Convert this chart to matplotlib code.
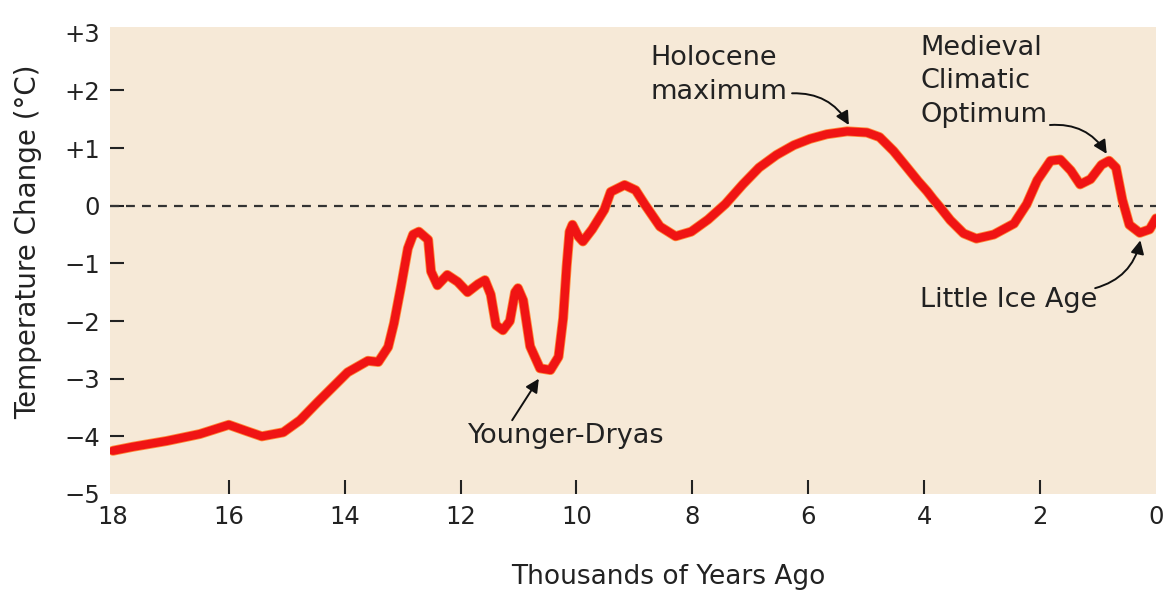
import matplotlib
matplotlib.use("Agg")
import matplotlib.pyplot as plt

# temperature anomaly curve (thousands of years ago, deg C)
kyr_ago = [18.0, 17.65, 17.07, 16.5, 16.0, 15.69, 15.43, 15.06, 14.77, 14.47,
           14.19, 13.95, 13.6, 13.42, 13.25, 13.15, 13.03, 12.91, 12.82, 12.72,
           12.56, 12.51, 12.4, 12.23, 12.05, 11.88, 11.7, 11.58, 11.48, 11.39,
           11.27, 11.15, 11.06, 11.01, 10.92, 10.8, 10.63, 10.45, 10.31, 10.23,
           10.17, 10.12, 10.07, 9.97, 9.89, 9.73, 9.52, 9.41, 9.17, 8.98,
           8.82, 8.56, 8.29, 8.02, 7.73, 7.43, 7.13, 6.85, 6.55, 6.25,
           5.97, 5.68, 5.33, 4.99, 4.77, 4.53, 4.31, 4.1, 3.95, 3.85,
           3.7, 3.55, 3.32, 3.1, 2.8, 2.45, 2.23, 2.05, 1.82, 1.65,
           1.47, 1.31, 1.13, 0.94, 0.81, 0.69, 0.58, 0.46, 0.28, 0.11, 0.0]
temp_change = [-4.25, -4.18, -4.08, -3.96, -3.80, -3.91, -4.0, -3.93, -3.72, -3.41,
               -3.13, -2.89, -2.69, -2.71, -2.45, -2.04, -1.41, -0.74, -0.5, -0.45,
               -0.59, -1.14, -1.38, -1.2, -1.32, -1.5, -1.36, -1.29, -1.54, -2.07,
               -2.16, -2.0, -1.5, -1.43, -1.64, -2.44, -2.82, -2.85, -2.62, -1.95,
               -1.05, -0.45, -0.33, -0.53, -0.62, -0.41, -0.07, 0.24, 0.36, 0.27,
               0.02, -0.36, -0.53, -0.45, -0.24, 0.03, 0.37, 0.66, 0.88, 1.05,
               1.16, 1.24, 1.29, 1.27, 1.19, 0.95, 0.68, 0.42, 0.25, 0.12,
               -0.06, -0.25, -0.48, -0.57, -0.5, -0.31, 0.03, 0.44, 0.78, 0.8,
               0.61, 0.37, 0.46, 0.71, 0.78, 0.66, 0.1, -0.33, -0.47, -0.41, -0.22]

x_ticks = [18, 16, 14, 12, 10, 8, 6, 4, 2, 0]
y_ticks = [3, 2, 1, 0, -1, -2, -3, -4, -5]
y_tick_labels = ["+3", "+2", "+1", "0", "\u22121", "\u22122", "\u22123", "\u22124", "\u22125"]

# labelled events: (text, text x, text y, arrow start, arrow tip, curvature)
events = [
    ("Holocene\nmaximum", 8.73, 2.27, (6.28, 1.95), (5.30, 1.40), -0.3),
    ("Medieval\nClimatic\nOptimum", 4.07, 2.16, (1.83, 1.40), (0.85, 0.90), -0.3),
    ("Little Ice Age", 4.07, -1.64, (1.05, -1.43), (0.27, -0.60), 0.3),
    ("Younger-Dryas", 11.87, -4.0, (11.11, -3.72), (10.65, -3.00), 0.0),
]

plt.rcParams["font.family"] = ["DejaVu Sans"]
INK = "#222222"

fig = plt.figure(figsize=(11.68, 5.90), dpi=100)
ax = fig.add_axes([110 / 1168, 96 / 590, 1046 / 1168, 467 / 590])
ax.set_facecolor("#f6e9d7")
for side in ax.spines.values():
    side.set_visible(False)

ax.set_xlim(18.05, 0)
ax.set_ylim(-5, 3.1)

ax.axhline(0, color="#333333", lw=1.6, dashes=(4, 3.2), zorder=2)

# orange halo under the red line, like the printed original
ax.plot(kyr_ago, temp_change, color="#ff8a3a", lw=7.2, solid_capstyle="round",
        solid_joinstyle="round", zorder=3)
ax.plot(kyr_ago, temp_change, color="#f01414", lw=6.0, solid_capstyle="round",
        solid_joinstyle="round", zorder=4)

ax.set_xticks(x_ticks)
ax.set_xticklabels([str(t) for t in x_ticks])
ax.set_yticks(y_ticks)
ax.set_yticklabels(y_tick_labels)
ax.tick_params(axis="both", direction="in", length=10, width=1.5, color=INK,
               labelsize=17.5, labelcolor=INK)
ax.tick_params(axis="x", pad=8)
ax.tick_params(axis="y", pad=7)

# no tick marks at the corners
for tk in (ax.xaxis.get_major_ticks()[0], ax.xaxis.get_major_ticks()[-1],
           ax.yaxis.get_major_ticks()[0], ax.yaxis.get_major_ticks()[-1]):
    tk.tick1line.set_visible(False)

for text, tx, ty, start, tip, rad in events:
    ax.text(tx, ty, text, ha="left", va="center", fontsize=19.5, color=INK,
            linespacing=1.38, zorder=5)
    ax.annotate("", xy=tip, xytext=start,
                arrowprops=dict(arrowstyle="-|>", color="#111111", lw=1.4,
                                mutation_scale=20, shrinkA=0, shrinkB=0,
                                connectionstyle=f"arc3,rad={rad}"),
                zorder=5)

fig.text(668 / 1168, (590 - 577) / 590, "Thousands of Years Ago", ha="center",
         va="center", fontsize=19, color=INK)
fig.text(28 / 1168, (590 - 242) / 590, "Temperature Change (\u00b0C)", ha="center",
         va="center", rotation=90, fontsize=20, color=INK)

fig.savefig("out.png", dpi=100)
